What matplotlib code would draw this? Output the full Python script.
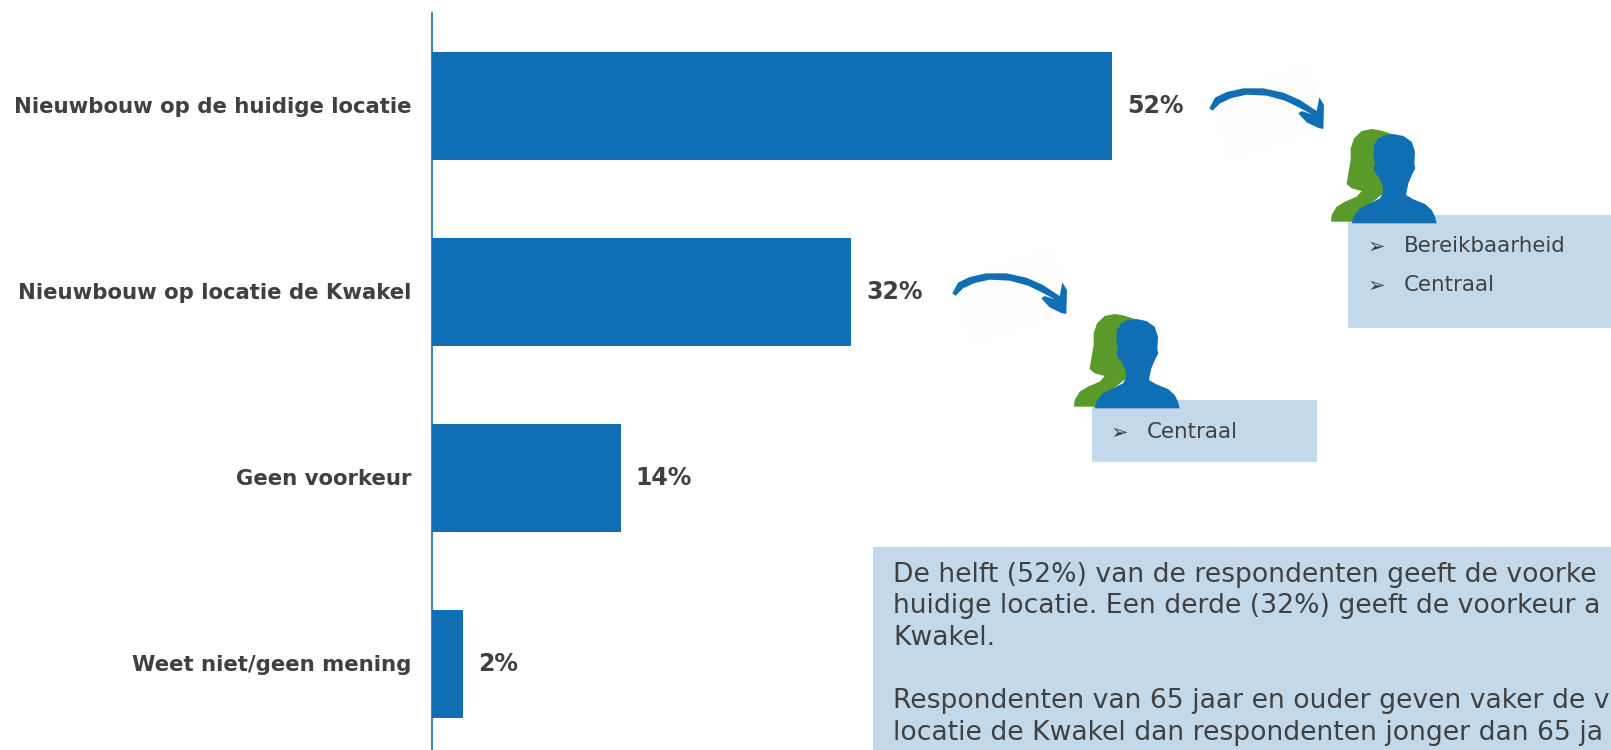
import matplotlib
matplotlib.use("Agg")
import matplotlib.pyplot as plt
from matplotlib.patches import Polygon, Rectangle
from matplotlib.transforms import ScaledTranslation

categories = ["Nieuwbouw op de huidige locatie", "Nieuwbouw op locatie de Kwakel", "Geen voorkeur", "Weet niet/geen mening"]
values = [52.0, 32.1, 14.45, 2.4]
value_labels = ["52%", "32%", "14%", "2%"]

box1_items = ["Bereikbaarheid", "Centraal"]
box2_items = ["Centraal"]
# de tekst loopt in het origineel van de rand af
summary_lines = [
    "De helft (52%) van de respondenten geeft de voorke",
    "huidige locatie. Een derde (32%) geeft de voorkeur a",
    "Kwakel.",
    "",
    "Respondenten van 65 jaar en ouder geven vaker de v",
    "locatie de Kwakel dan respondenten jonger dan 65 ja",
]

BLUE = "#106fb4"
GREEN = "#5a9a2a"
PALE = "#c3d9ea"
GREY = "#404040"
W, H = 1611, 750

fig = plt.figure(figsize=(W / 100, H / 100), dpi=100, facecolor="white")

# balken
ax = fig.add_axes([431.5 / W, 0, (W - 431.5) / W, (H - 13) / H])
ypos = list(range(len(categories)))
bars = ax.barh(ypos, values, height=0.585, color=BLUE)
ax.set_xlim(0, (W - 431.5) / 13.08)
ax.set_ylim((750 - 106) / 186, (13 - 106) / 186)
ax.set_yticks(ypos)
ax.set_yticklabels(categories, fontsize=15.3, fontweight="bold", color=GREY)
ax.tick_params(axis="y", length=0, pad=14.5)
for lab in ax.get_yticklabels():
    lab.set_transform(lab.get_transform() + ScaledTranslation(0, 1.2 / 100, fig.dpi_scale_trans))
ax.xaxis.set_visible(False)
for s in ["top", "right", "bottom"]:
    ax.spines[s].set_visible(False)
ax.spines["left"].set_color(BLUE)
ax.spines["left"].set_linewidth(1.2)
val_texts = ax.bar_label(bars, labels=value_labels, padding=11, fontsize=17, fontweight="bold", color=GREY)
for t in val_texts:
    t.set_transform(t.get_transform() + ScaledTranslation(0, -2.5 / 100, fig.dpi_scale_trans))

# overlay in pixels
ov = fig.add_axes([0, 0, 1, 1], zorder=5)
ov.set_xlim(0, W)
ov.set_ylim(H, 0)
ov.axis("off")
ov.patch.set_alpha(0)

ARROW = [(88, 145), (105, 113), (140, 96), (190, 85), (250, 85), (310, 98), (360, 120), (410, 153),
         (418, 112), (432, 135), (430, 207), (415, 204), (380, 187), (355, 160), (365, 153), (395, 163),
         (360, 144), (315, 122), (260, 107), (200, 104), (155, 114), (120, 130), (98, 152)]
SHEET = [(90, 110), (385, 10), (450, 190), (150, 305)]
WOMAN = [(453, 485), (455, 465), (470, 440), (495, 425), (530, 410), (545, 393), (515, 385), (500, 372),
         (505, 340), (512, 300), (512, 265), (522, 235), (545, 213), (575, 207), (605, 212), (635, 222),
         (640, 300), (610, 400), (560, 440), (515, 485)]
MAN = [(515, 490), (520, 470), (540, 445), (570, 430), (600, 415), (610, 395), (607, 375), (597, 352),
       (585, 338), (580, 322), (585, 312), (580, 285), (582, 255), (595, 235), (615, 225), (640, 222),
       (670, 228), (695, 245), (705, 275), (703, 312), (706, 325), (697, 342), (685, 370), (678, 405),
       (700, 418), (735, 432), (755, 450), (765, 470), (770, 490)]


def shape(pts, dx, dy, color, z):
    xy = [(1180 + x / 3 + dx, 60 + y / 3 + dy) for x, y in pts]
    ov.add_patch(Polygon(xy, closed=True, facecolor=color, edgecolor="none", zorder=z))


def callout(dx, dy):
    shape(SHEET, dx, dy, "#fdfdfd", 1)
    shape(ARROW, dx, dy, BLUE, 2)
    shape(WOMAN, dx, dy, GREEN, 4)
    shape(MAN, dx, dy, BLUE, 5)


def bullets(items, xb, xt, ys):
    for item, y in zip(items, ys):
        ov.text(xb, y, "\u27a2", fontsize=15, color=GREY, ha="center", va="baseline", zorder=6)
        ov.text(xt, y - 1, item, fontsize=15.4, color=GREY, ha="left", va="baseline", zorder=6)


ov.add_patch(Rectangle((1348, 215), W - 1348, 112.7, facecolor=PALE, edgecolor="none", zorder=3))
ov.add_patch(Rectangle((1092, 400), 224.7, 61.7, facecolor=PALE, edgecolor="none", zorder=3))
ov.add_patch(Rectangle((873, 546.7), W - 873, H - 546.7, facecolor=PALE, edgecolor="none", zorder=3))

callout(0, 0)
callout(-257, 185)
bullets(box1_items, 1376, 1404, [252.7, 291.7])
bullets(box2_items, 1119, 1147, [439])

for i, line in enumerate(summary_lines):
    ov.text(893, 581.5 + i * 31.7, line, fontsize=19.2, color=GREY, ha="left", va="baseline", zorder=6)

fig.savefig("out.png", dpi=100)
